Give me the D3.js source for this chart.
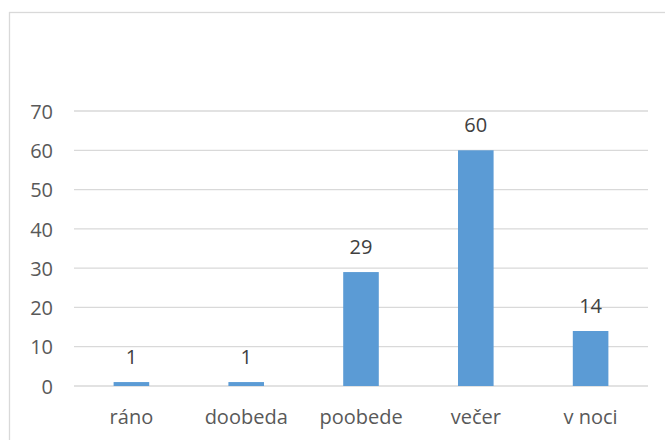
<!DOCTYPE html>
<html><head><meta charset="utf-8">
<script src="https://cdn.jsdelivr.net/npm/d3@7"></script>
<style>html,body{margin:0;padding:0;background:#fff;}svg{display:block;}</style>
</head><body>
<script>
const categories = ["ráno", "doobeda", "poobede", "večer", "v noci"];
const values = [1, 1, 29, 60, 14];
const yTicks = [0, 10, 20, 30, 40, 50, 60, 70];

const W = 665, H = 440;
const svg = d3.select("body").append("svg").attr("width", W).attr("height", H);
svg.append("rect").attr("width", W).attr("height", H).attr("fill", "#fff");
// chart area border (extends beyond right/bottom)
svg.append("rect").attr("x", 9.5).attr("y", 12.5).attr("width", 700).attr("height", 500)
  .attr("fill", "none").attr("stroke", "#d9d9d9").attr("stroke-width", 1.3);

const x = d3.scaleBand().domain(categories).range([74, 648]).paddingInner(0.69).paddingOuter(0.345);
const y = d3.scaleLinear().domain([0, 70]).range([386, 111]);
const font = "'Open Sans', sans-serif";

const grid = svg.append("g");
grid.selectAll("line").data(yTicks).join("line")
  .attr("x1", 74).attr("x2", 648)
  .attr("y1", d => y(d)).attr("y2", d => y(d))
  .attr("stroke", "#d9d9d9").attr("stroke-width", 1.3);

const yAxis = d3.axisLeft(y).tickValues(yTicks).tickSize(0).tickPadding(0);
const ya = svg.append("g").attr("transform", "translate(53,0)").call(yAxis);
ya.select(".domain").remove();
ya.selectAll("text").attr("font-family", font).attr("font-size", 20).attr("fill", "#595959").attr("dy", "0.36em");

svg.append("g").selectAll("rect").data(values).join("rect")
  .attr("x", (d, i) => x(categories[i]))
  .attr("width", x.bandwidth())
  .attr("y", d => y(d))
  .attr("height", d => y(0) - y(d))
  .attr("fill", "#5b9bd5");

svg.append("g").selectAll("text").data(values).join("text")
  .attr("x", (d, i) => x(categories[i]) + x.bandwidth() / 2)
  .attr("y", d => y(d) - 18)
  .attr("text-anchor", "middle")
  .attr("font-family", font).attr("font-size", 20).attr("fill", "#404040")
  .text(d => d);

const xAxis = d3.axisBottom(x).tickSize(0).tickPadding(0);
const xa = svg.append("g").attr("transform", "translate(0,424)").call(xAxis);
xa.select(".domain").remove();
xa.selectAll("text").attr("font-family", font).attr("font-size", 20).attr("fill", "#595959").attr("dy", 0);
</script>
</body></html>
